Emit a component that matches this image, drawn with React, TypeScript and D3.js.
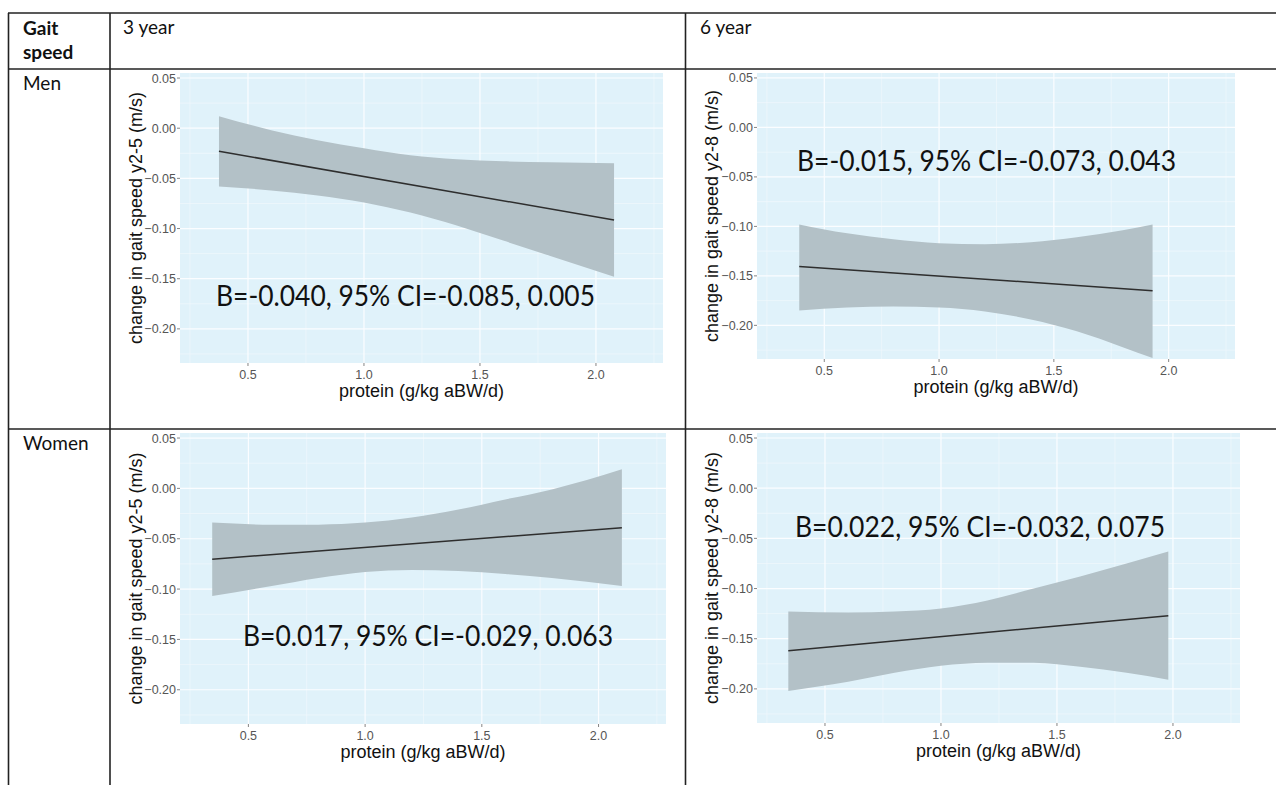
import React from 'react';
import * as d3 from 'd3';

// ---------- data ----------
const X_TICKS = [0.5, 1.0, 1.5, 2.0];
const Y_TICKS = [0.05, 0.0, -0.05, -0.1, -0.15, -0.2];
const X_MINOR = [0.25, 0.75, 1.25, 1.75, 2.25];
const Y_MINOR = [0.025, -0.025, -0.075, -0.125, -0.175, -0.225];
const X_DOMAIN = [0.207, 2.289];
const Y_DOMAIN = [-0.234, 0.055];

const headerLabel = ['Gait', 'speed'];
const colLabels = ['3 year', '6 year'];
const rowLabels = ['Men', 'Women'];
const xTitle = 'protein (g/kg aBW/d)';

// Men, 3 year
const men3X = [0.375, 0.6, 0.8, 1.0, 1.2, 1.4, 1.6, 1.8, 2.078];
const men3Upper = [0.012, -0.002, -0.012, -0.02, -0.027, -0.031, -0.033, -0.034, -0.035];
const men3Lower = [-0.058, -0.062, -0.067, -0.074, -0.084, -0.097, -0.112, -0.127, -0.148];
const men3LineX = [0.375, 2.078];
const men3LineY = [-0.023, -0.0915];

// Men, 6 year
const men6X = [0.391, 0.6, 0.8, 1.0, 1.2, 1.4, 1.6, 1.8, 1.93];
const men6Upper = [-0.098, -0.107, -0.113, -0.117, -0.118, -0.116, -0.111, -0.104, -0.098];
const men6Lower = [-0.185, -0.182, -0.181, -0.182, -0.186, -0.194, -0.206, -0.222, -0.233];
const men6LineX = [0.391, 1.93];
const men6LineY = [-0.1405, -0.165];

// Women, 3 year
const women3X = [0.345, 0.6, 0.8, 1.0, 1.2, 1.4, 1.6, 1.8, 2.1];
const women3Upper = [-0.034, -0.036, -0.036, -0.034, -0.029, -0.021, -0.011, -0.001, 0.019];
const women3Lower = [-0.107, -0.097, -0.089, -0.083, -0.081, -0.082, -0.085, -0.089, -0.097];
const women3LineX = [0.345, 2.1];
const women3LineY = [-0.0703, -0.039];

// Women, 6 year
const women6X = [0.342, 0.6, 0.8, 1.0, 1.2, 1.4, 1.6, 1.8, 1.98];
const women6Upper = [-0.123, -0.124, -0.123, -0.12, -0.112, -0.1, -0.088, -0.075, -0.063];
const women6Lower = [-0.202, -0.193, -0.184, -0.177, -0.174, -0.174, -0.178, -0.184, -0.191];
const women6LineX = [0.342, 1.98];
const women6LineY = [-0.162, -0.127];

const yTitles = ['change in gait speed y2-5 (m/s)', 'change in gait speed y2-8 (m/s)'];
const annotations = [
  'B=-0.040, 95% CI=-0.085, 0.005',
  'B=-0.015, 95% CI=-0.073, 0.043',
  'B=0.017, 95% CI=-0.029, 0.063',
  'B=0.022, 95% CI=-0.032, 0.075',
];

// ---------- layout ----------
const panels = [
  { box: { l: 180, r: 663, t: 73, b: 363 }, xs: men3X, up: men3Upper, lo: men3Lower, lx: men3LineX, ly: men3LineY, title: yTitles[0], ann: annotations[0], ax: 216, ay: 306, aw: 379, tx: 135.5 },
  { box: { l: 757, r: 1235, t: 73, b: 359 }, xs: men6X, up: men6Upper, lo: men6Lower, lx: men6LineX, ly: men6LineY, title: yTitles[1], ann: annotations[1], ax: 797, ay: 171, aw: 379, tx: 712 },
  { box: { l: 180, r: 666, t: 433, b: 724 }, xs: women3X, up: women3Upper, lo: women3Lower, lx: women3LineX, ly: women3LineY, title: yTitles[0], ann: annotations[2], ax: 243, ay: 646, aw: 370, tx: 135.5 },
  { box: { l: 757, r: 1240, t: 433, b: 723 }, xs: women6X, up: women6Upper, lo: women6Lower, lx: women6LineX, ly: women6LineY, title: yTitles[1], ann: annotations[3], ax: 795, ay: 537, aw: 370, tx: 712 },
];

const fmtY = (v: number) => (Math.abs(v) < 1e-9 ? '0.00' : d3.format('.2f')(v));
const fmtX = (v: number) => d3.format('.1f')(v);

const AXIS_FONT = '"Liberation Sans", Arial, sans-serif';
const TABLE_FONT = 'Lato, "Open Sans", sans-serif';

function Panel({ p }: { p: any }) {
  const { l, r, t, b } = p.box;
  const x = d3.scaleLinear().domain(X_DOMAIN).range([l, r]);
  const y = d3.scaleLinear().domain(Y_DOMAIN).range([b, t]);
  const pts = p.xs.map((v: number, i: number) => ({ x: v, u: p.up[i], lo: p.lo[i] }));
  const area = d3
    .area<any>()
    .x((d) => x(d.x))
    .y0((d) => y(d.lo))
    .y1((d) => y(d.u))
    .curve(d3.curveMonotoneX);
  const line = d3
    .line<number>()
    .x((d, i) => x(p.lx[i]))
    .y((d) => y(d));
  return (
    <g>
      <rect x={l} y={t} width={r - l} height={b - t} fill="#e0f2fa" />
      {X_MINOR.map((v) => (
        <line key={'xm' + v} x1={x(v)} x2={x(v)} y1={t} y2={b} stroke="#f0f8fc" strokeWidth={0.7} />
      ))}
      {Y_MINOR.map((v) => (
        <line key={'ym' + v} x1={l} x2={r} y1={y(v)} y2={y(v)} stroke="#f0f8fc" strokeWidth={0.7} />
      ))}
      {X_TICKS.map((v) => (
        <line key={'xM' + v} x1={x(v)} x2={x(v)} y1={t} y2={b} stroke="#fbfdff" strokeWidth={1.2} />
      ))}
      {Y_TICKS.map((v) => (
        <line key={'yM' + v} x1={l} x2={r} y1={y(v)} y2={y(v)} stroke="#fbfdff" strokeWidth={1.2} />
      ))}
      <path d={area(pts) || ''} fill="#b3c1c7" />
      <path d={line(p.ly) || ''} fill="none" stroke="#2e2e2e" strokeWidth={1.5} />
      {Y_TICKS.map((v) => (
        <g key={'yt' + v}>
          <line x1={l - 3} x2={l} y1={y(v)} y2={y(v)} stroke="#777" strokeWidth={0.9} />
          <text x={l - 4} y={y(v)} dy="0.36em" textAnchor="end" fontFamily={AXIS_FONT} fontSize={12.5} fill="#555">
            {fmtY(v)}
          </text>
        </g>
      ))}
      {X_TICKS.map((v) => (
        <g key={'xt' + v}>
          <line x1={x(v)} x2={x(v)} y1={b} y2={b + 3} stroke="#777" strokeWidth={0.9} />
          <text x={x(v)} y={b + 15.5} textAnchor="middle" fontFamily={AXIS_FONT} fontSize={12.5} fill="#555">
            {fmtX(v)}
          </text>
        </g>
      ))}
      <text
        transform={`translate(${p.tx},${(t + b) / 2}) rotate(-90)`}
        textAnchor="middle"
        dy="0.35em"
        fontFamily={AXIS_FONT}
        fontSize={18}
        fill="#111"
      >
        {p.title}
      </text>
      <text x={(l + r) / 2} y={b + 34} textAnchor="middle" fontFamily={AXIS_FONT} fontSize={18} fill="#111">
        {xTitle}
      </text>
      <text x={p.ax} y={p.ay} fontFamily={TABLE_FONT} fontSize={28} fill="#111" textLength={p.aw} lengthAdjust="spacingAndGlyphs">
        {p.ann}
      </text>
    </g>
  );
}

export default function App() {
  const W = 1276;
  const H = 785;
  const lineC = '#222';
  return (
    <svg width={W} height={H} style={{ position: 'absolute', left: 0, top: 0, display: 'block', background: '#fff' }}>
      <rect x={0} y={0} width={W} height={H} fill="#fff" />
      {panels.map((p, i) => (
        <Panel key={i} p={p} />
      ))}
      {/* table grid */}
      <line x1={8} x2={W} y1={13} y2={13} stroke={lineC} strokeWidth={1.6} />
      <line x1={8} x2={W} y1={69} y2={69} stroke={lineC} strokeWidth={1.6} />
      <line x1={8} x2={W} y1={429} y2={429} stroke={lineC} strokeWidth={1.6} />
      <line x1={8.5} x2={8.5} y1={13} y2={H} stroke={lineC} strokeWidth={1.6} />
      <line x1={110} x2={110} y1={13} y2={H} stroke={lineC} strokeWidth={1.6} />
      <line x1={685.5} x2={685.5} y1={13} y2={H} stroke={lineC} strokeWidth={1.6} />
      <text x={23} y={35} fontFamily={TABLE_FONT} fontWeight="bold" fontSize={19} fill="#111">
        {headerLabel[0]}
      </text>
      <text x={23} y={59} fontFamily={TABLE_FONT} fontWeight="bold" fontSize={19} fill="#111">
        {headerLabel[1]}
      </text>
      <text x={123} y={34} fontFamily={TABLE_FONT} fontSize={19} fill="#111">
        {colLabels[0]}
      </text>
      <text x={700} y={34} fontFamily={TABLE_FONT} fontSize={19} fill="#111">
        {colLabels[1]}
      </text>
      <text x={23} y={90} fontFamily={TABLE_FONT} fontSize={19} fill="#111">
        {rowLabels[0]}
      </text>
      <text x={23} y={450} fontFamily={TABLE_FONT} fontSize={19} fill="#111">
        {rowLabels[1]}
      </text>
    </svg>
  );
}
